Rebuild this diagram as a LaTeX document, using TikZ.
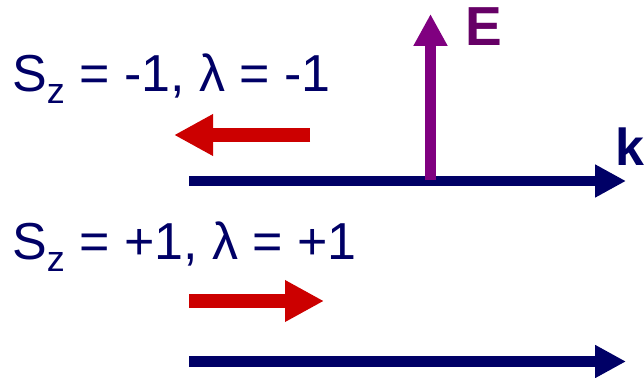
\documentclass[tikz,border=0pt]{standalone}
\usepackage{fontspec}
\setmainfont{Liberation Sans}
\usetikzlibrary{arrows.meta}
\definecolor{navy}{HTML}{000066}
\definecolor{redarrow}{HTML}{CC0000}
\definecolor{purplearrow}{HTML}{800080}
\definecolor{purpletext}{HTML}{660066}
\newcommand{\subz}{{\fontsize{36pt}{40pt}\selectfont\raisebox{-12pt}{z}}}
\begin{document}
\begin{tikzpicture}[x=1pt,y=-1pt,
  label/.style={inner sep=0pt,anchor=base west,text=navy,font=\fontsize{52pt}{60pt}\selectfont},
  redarr/.style={draw=redarrow,line width=14pt,-{Triangle[length=39pt,width=39pt]}},
  navyarr/.style={draw=navy,line width=#1,-{Triangle[length=31pt,width=31pt]}},
  purplearr/.style={draw=purplearrow,line width=11pt,-{Triangle[length=32pt,width=32pt]}}]
\useasboundingbox[fill=white] (0,0) rectangle (644,377);
% texts
\node[label] (t1) at (12,92) {S\subz{} = -1, λ = -1};
\node[label] (t2) at (12,259.5) {S\subz{} = +1, λ = +1};
\node[inner sep=0pt,anchor=base west,text=purpletext,font=\fontsize{55pt}{60pt}\selectfont\bfseries] (E) at (465,46) {E};
\node[inner sep=0pt,anchor=base west,text=navy,font=\fontsize{52pt}{60pt}\selectfont\bfseries] (k) at (615,165) {k};
% coordinates
\coordinate (r1s) at (310,135);
\coordinate (r1e) at (174,135);
\coordinate (k1s) at (189,181);
\coordinate (k1e) at (626,181);
\coordinate (es) at (430.5,180);
\coordinate (ee) at (430.5,14);
\coordinate (r2s) at (189,301);
\coordinate (r2e) at (324,301);
\coordinate (k2s) at (189,361.5);
\coordinate (k2e) at (626,361.5);
% arrows
\draw[navyarr=10pt] (k1s) -- (k1e);
\draw[purplearr] (es) -- (ee);
\draw[redarr] (r1s) -- (r1e);
\draw[redarr] (r2s) -- (r2e);
\draw[navyarr=11pt] (k2s) -- (k2e);
\end{tikzpicture}
\end{document}
